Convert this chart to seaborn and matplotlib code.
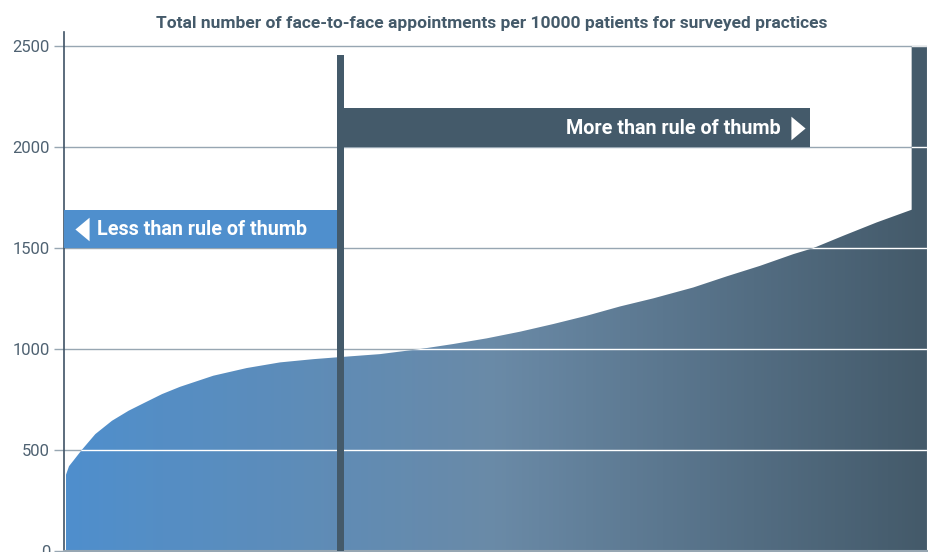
# Import main libraries.
import numpy as np
import pandas as pd
import matplotlib
matplotlib.use('Agg')
import matplotlib.pyplot as plt
from matplotlib.colors import LinearSegmentedColormap
from matplotlib.patches import PathPatch, Rectangle
import seaborn as sns

# Practices ranked by appointments (position as % of surveyed practices).
practice_rank = [0.23, 0.58, 1.08, 2.05, 3.63, 5.56, 7.50, 9.42, 11.36, 13.44, 17.30,
                 21.17, 25.03, 28.89, 31.60, 36.62, 41.25, 45.11, 48.98, 52.84,
                 56.70, 60.57, 64.43, 68.28, 72.92, 76.79, 80.65, 84.51, 86.83,
                 90.30, 94.17, 98.23]
appointments = [378, 420, 447, 500, 579, 645, 695, 736, 777, 813, 868,
                906, 934, 950, 959, 975, 1000, 1025, 1053, 1086,
                1124, 1165, 1211, 1251, 1305, 1360, 1412, 1470, 1500,
                1561, 1627, 1690]
# Outlier practice at the far right, capped at the axis top.
outlier_rank = [98.23, 100]
outlier_value = [2500, 2500]
# Rule of thumb divider.
divider_rank = 32.06
divider_value = 2455
y_ticks = [0, 500, 1000, 1500, 2000, 2500]

blue = '#4f8fcd'
dark = '#445a6a'
grid_grey = '#97a6b2'

df = pd.DataFrame({'rank': practice_rank + outlier_rank,
                   'appointments': appointments + outlier_value})

sns.set_theme(style='white')
plt.rcParams['font.family'] = ['Roboto', 'DejaVu Sans']

fig = plt.figure(figsize=(9.29, 5.52), dpi=100)
ax = fig.add_axes([0.0689, 0.0018, 0.9289, 0.9402])

# Grey gridlines under everything.
for t in y_ticks[1:]:
    ax.axhline(t, color=grid_grey, lw=1, zorder=0.5)

# Area outline (invisible) from seaborn, then gradient clipped to it.
sns.lineplot(data=df, x='rank', y='appointments', ax=ax, lw=0, color=dark)
poly = ax.fill_between(df['rank'], 0, df['appointments'], color='none', lw=0)
clip = PathPatch(poly.get_paths()[0], transform=ax.transData,
                 facecolor='none', edgecolor='none')
ax.add_patch(clip)
cmap = LinearSegmentedColormap.from_list('grad', [blue, '#6a8aa7', dark])
grad = np.linspace(0, 1, 256).reshape(1, -1)
im = ax.imshow(grad, extent=[0, 100, 0, 2570], aspect='auto', cmap=cmap,
               zorder=1, interpolation='bilinear')
im.set_clip_path(clip)

# White gridlines over the filled area.
for t in y_ticks[1:]:
    ln = ax.axhline(t, color='white', lw=1, zorder=2)
    ln.set_clip_path(clip)

# Divider.
ax.bar(divider_rank, divider_value, width=0.78, color=dark, lw=0, zorder=4)

# Banners.
tri_left = [(-0.6, 0), (0.6, 1), (0.6, -1)]
tri_right = [(0.6, 0), (-0.6, 1), (-0.6, -1)]
ax.add_patch(Rectangle((0, 1500), 31.67, 190, color=blue, zorder=3, lw=0))
ax.add_patch(Rectangle((32.45, 2000), 54.0, 195, color=dark, zorder=3, lw=0))
ax.plot([2.1], [1595], marker=tri_left, color='white', ms=17, mew=0, zorder=5)
ax.plot([85.1], [2097], marker=tri_right, color='white', ms=17, mew=0, zorder=5)
ax.text(3.8, 1590, 'Less than rule of thumb', color='white', fontsize=14.2,
        fontweight='bold', ha='left', va='center', zorder=5)
ax.text(83.0, 2092, 'More than rule of thumb', color='white', fontsize=14.2,
        fontweight='bold', ha='right', va='center', zorder=5)

ax.set_xlim(0, 100)
ax.set_ylim(0, 2570)
ax.set_xticks([])
ax.set_yticks(y_ticks)
ax.tick_params(axis='y', length=7, width=1, color=grid_grey, labelsize=12,
               labelcolor='#4f6272', pad=3, left=True)
ax.set_xlabel('')
ax.set_ylabel('')
for s in ['top', 'right']:
    ax.spines[s].set_visible(False)
ax.spines['left'].set_color('#3f5366')
ax.spines['left'].set_linewidth(1.2)
ax.spines['bottom'].set_color(grid_grey)
ax.spines['bottom'].set_linewidth(1.5)

fig.text(0.529, 0.958, 'Total number of face-to-face appointments per 10000 patients for surveyed practices',
         ha='center', va='center', fontsize=12.5, fontweight='bold', color=dark)

plt.savefig('out.png', dpi=100)
